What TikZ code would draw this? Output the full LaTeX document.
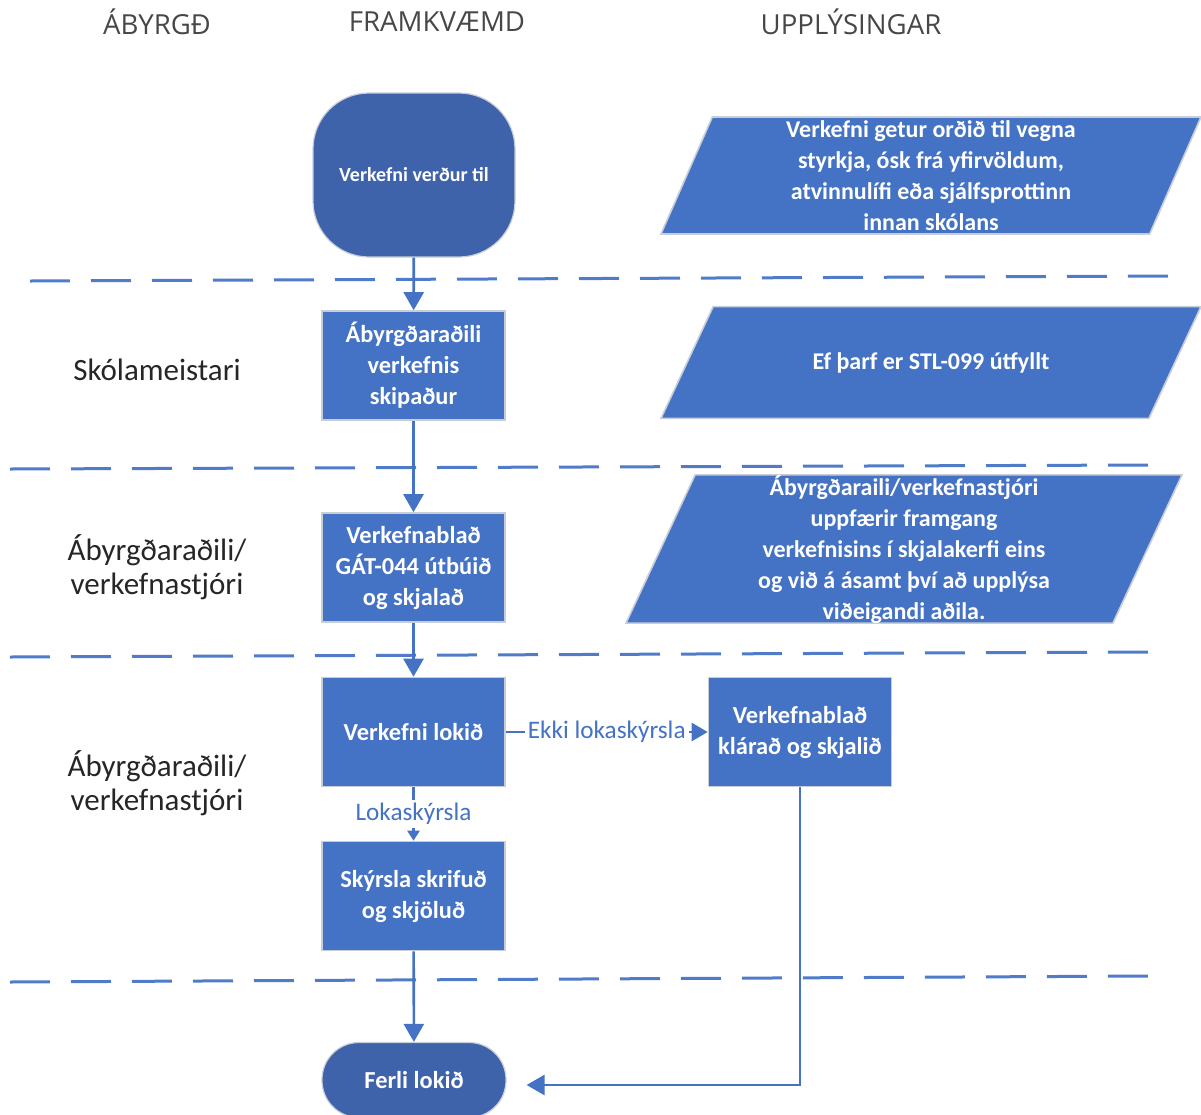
\documentclass[tikz,border=0pt]{standalone}
\usepackage{fontspec}
\setmainfont{Carlito}
\newfontfamily\headfont{Open Sans}
\usetikzlibrary{positioning,shapes.geometric,arrows.meta}

\definecolor{boxblue}{HTML}{4472C4}
\definecolor{termblue}{HTML}{3E63AA}
\definecolor{boxedge}{HTML}{C8CED8}
\definecolor{laneline}{HTML}{4F7BC8}
\definecolor{lanetext}{HTML}{262626}

\begin{document}
\begin{tikzpicture}[
        x=0.5pt, y=-0.5pt,
        stepbox/.style={rectangle, fill=boxblue, draw=boxedge, line width=0.8pt,
            text=white, align=center, inner sep=2pt,
            font=\bfseries\fontsize{12.2}{15.5}\selectfont,
            minimum width=91.5pt, minimum height=54.5pt},
        terminal/.style={rectangle, rounded corners=28pt, fill=termblue,
            draw=boxedge, line width=0.6pt, text=white,
            font=\bfseries\fontsize{10}{12}\selectfont,
            minimum width=101pt, minimum height=82pt},
        endterm/.style={terminal, rounded corners=18.5pt,
            font=\bfseries\fontsize{12.2}{14}\selectfont,
            minimum width=92pt, minimum height=37.5pt},
        info/.style={trapezium, trapezium left angle=65, trapezium right angle=115,
            trapezium stretches body=true, fill=boxblue, draw=boxedge, line width=0.8pt,
            text=white, align=center, inner sep=0pt,
            font=\bfseries\fontsize{12}{15.5}\selectfont},
        flow/.style={draw=boxblue, line width=1.3pt, -{Triangle[length=9pt,width=10pt]}},
        edgelab/.style={fill=white, text=boxblue, inner sep=1.5pt,
            font=\fontsize{12.6}{14}\selectfont},
        lane/.style={draw=laneline, line width=1.5pt, dash pattern=on 20pt off 10.5pt},
        role/.style={text=lanetext, align=center, font=\fontsize{15.5}{17}\selectfont},
        head/.style={text=lanetext!85, font=\headfont\fontsize{13.8}{15}\selectfont}
    ]
    \useasboundingbox (0,0) rectangle (1201,1115);

    % column heads
    \node[head] (hresp) at (157,22) {ÁBYRGÐ};
    \node[head] (hdo) at (437,22) {FRAMKVÆMD};
    \node[head] (hinfo) at (851,22) {UPPLÝSINGAR};

    % swimlane borders
    \draw[lane] (30,281) -- (1170,276);
    \draw[lane] (10,469) -- (1150,465);
    \draw[lane] (10,657) -- (1150,652);
    \draw[lane] (10,982) -- (1150,976);

    % who is responsible
    \node[role] (rmaster) at (157,370) {Skólameistari};
    \node[role] (rlead) at (157,567) {Ábyrgðaraðili/\\verkefnastjóri};
    \node[role] (rlead2) at (157,783) {Ábyrgðaraðili/\\verkefnastjóri};

    % process steps
    \node[terminal] (start) at (414,175) {Verkefni verður til};
    \node[stepbox] (appoint) at (413.5,365.5) {Ábyrgðaraðili\\verkefnis\\skipaður};
    \node[stepbox] (sheet) at (413.5,567.5) {Verkefnablað\\GÁT-044 útbúið\\og skjalað};
    \node[stepbox] (done) at (413.5,732) {Verkefni lokið};
    \node[stepbox] (report) at (413.5,896) {Skýrsla skrifuð\\og skjöluð};
    \node[stepbox] (finish) at (800,732) {Verkefnablað\\klárað og skjalið};
    \node[endterm] (end) at (414,1080) {Ferli lokið};

    % information
    \node[info, minimum width=270pt, minimum height=58.5pt] (istart) at (931,175.5)
        {Verkefni getur orðið til vegna\\styrkja, ósk frá yfirvöldum,\\atvinnulífi eða sjálfsprottinn\\innan skólans};
    \node[info, minimum width=270pt, inner ysep=22.8pt] (iform) at (931,362.5)
        {Ef þarf er STL-099 útfyllt};
    \node[info, minimum width=278pt, minimum height=73pt] (iupdate) at (904,549)
        {Ábyrgðaraili/verkefnastjóri\\uppfærir framgang\\verkefnisins í skjalakerfi eins\\og við á ásamt því að upplýsa\\viðeigandi aðila.};

    % flow
    \draw[flow] (start) -- (appoint);
    \draw[flow] (appoint) -- (sheet);
    \draw[flow] (sheet) -- (done);
    \draw[flow, -{Triangle[length=5pt,width=6pt]}] (done) -- node[edgelab] {Lokaskýrsla} (report);
    \draw[flow, -{Triangle[length=8pt,width=9pt]}] (done) -- node[edgelab] {Ekki lokaskýrsla} (finish);
    \draw[flow] (report) -- (end);
    \draw[flow, shorten >=10pt] (finish) |- ([yshift=-2.5pt]end.east);

\end{tikzpicture}
\end{document}
